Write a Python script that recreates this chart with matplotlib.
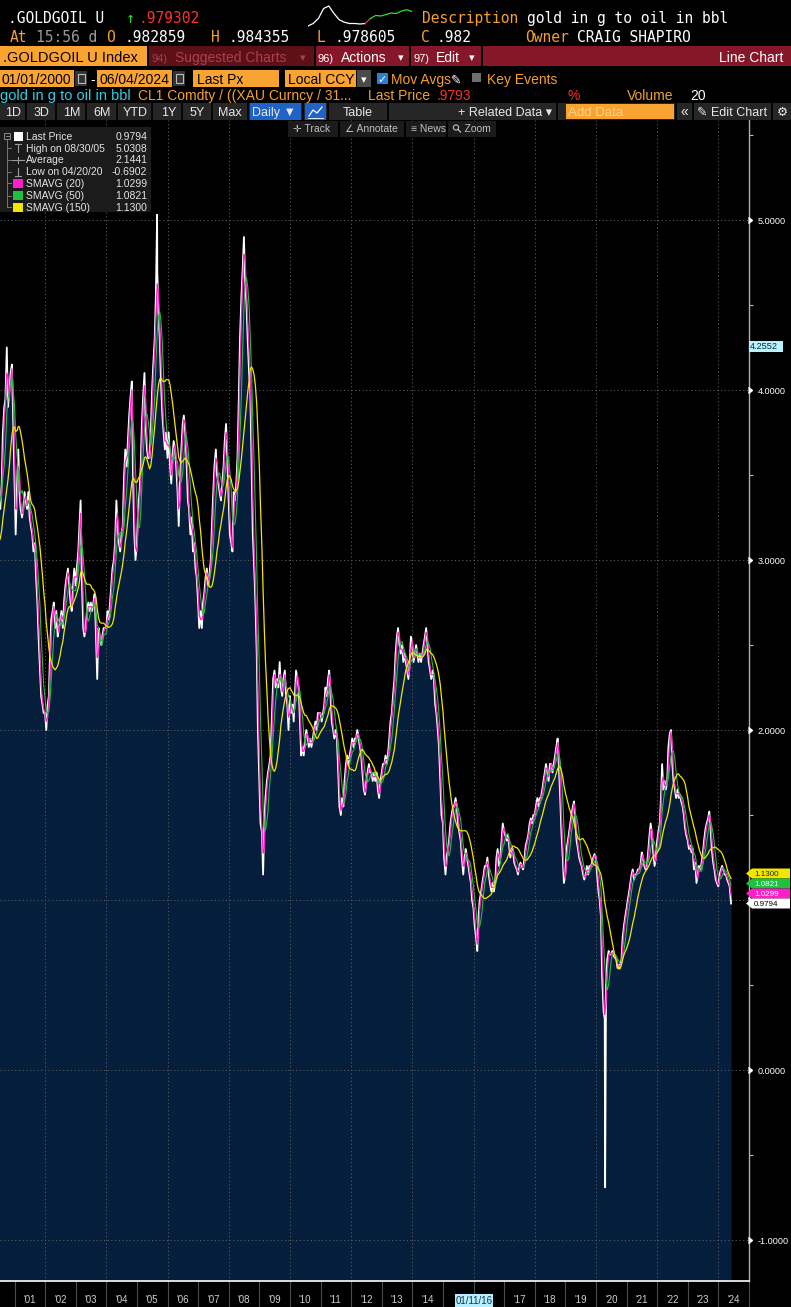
import numpy as np
import pandas as pd
import matplotlib
matplotlib.use("Agg")
import matplotlib.pyplot as plt
import matplotlib.dates as mdates
import matplotlib.transforms as mtrans
from matplotlib.patches import Rectangle, Polygon, Circle

plt.rcParams['font.family'] = ['Liberation Sans', 'DejaVu Sans']

# ------------------------------------------------------------------ data
# ratio, semi-monthly (1st and 15th of each month)
r2000 = [2.75, 2.85, 3.00, 3.20, 3.35, 3.20, 2.85, 2.75, 3.00, 3.20, 3.40, 3.50,
         3.40, 3.30, 3.45, 3.75, 3.90, 3.95, 4.25, 3.90, 4.00, 4.10, 4.15, 3.85]
r2001 = [3.45, 3.15, 3.45, 3.65, 3.40, 3.30, 3.25, 3.30, 3.40, 3.35, 3.30, 3.40,
         3.25, 3.20, 3.15, 3.05, 3.10, 2.90, 2.75, 2.55, 2.35, 2.20, 2.15, 2.10]
r2002 = [2.10, 2.00, 2.15, 2.20, 2.45, 2.65, 2.70, 2.75, 2.60, 2.70, 2.55, 2.60,
         2.65, 2.70, 2.60, 2.75, 2.85, 2.90, 2.95, 2.85, 2.75, 2.70, 2.85, 2.95]
r2003 = [2.85, 2.95, 3.05, 3.20, 3.35, 2.90, 2.60, 2.55, 2.60, 2.70, 2.75, 2.70,
         2.75, 2.70, 2.75, 2.80, 2.55, 2.30, 2.60, 2.55, 2.50, 2.55, 2.60, 2.60]
r2004 = [2.60, 2.70, 2.65, 2.75, 2.85, 2.95, 3.00, 3.10, 3.35, 3.20, 3.10, 3.05,
         3.15, 3.20, 3.50, 3.65, 3.55, 3.70, 3.85, 3.95, 4.05, 3.50, 3.15, 3.00]
r2005 = [3.10, 3.30, 3.40, 3.55, 3.80, 3.95, 4.10, 3.80, 3.65, 3.60, 3.60, 3.75,
         4.00, 4.15, 4.30, 4.55, 4.70, 4.45, 4.30, 4.05, 3.85, 3.75, 3.65, 3.75]
r2006 = [3.60, 3.75, 3.55, 3.45, 3.60, 3.70, 3.65, 3.55, 3.40, 3.20, 3.50, 3.65,
         3.80, 3.85, 3.75, 3.60, 3.35, 3.30, 3.15, 3.25, 3.05, 3.10, 2.95, 2.90]
r2007 = [2.75, 2.60, 2.70, 2.60, 2.75, 2.80, 2.90, 2.95, 2.85, 2.90, 3.00, 3.20,
         3.40, 3.55, 3.65, 3.50, 3.45, 3.40, 3.35, 3.45, 3.55, 3.70, 3.80, 3.60]
r2008 = [3.35, 3.15, 3.10, 3.05, 3.40, 3.35, 3.45, 3.60, 3.95, 4.30, 4.55, 4.70,
         4.90, 4.65, 4.50, 4.30, 4.10, 4.00, 3.55, 3.15, 2.95, 2.75, 2.45, 2.00]
r2009 = [1.70, 1.45, 1.40, 1.15, 1.45, 1.60, 1.70, 1.75, 1.80, 1.85, 2.10, 2.30,
         2.35, 2.25, 2.30, 2.25, 2.40, 2.25, 2.20, 2.30, 2.35, 2.20, 2.15, 2.00]
r2010 = [2.20, 2.10, 2.15, 2.05, 2.20, 2.35, 2.30, 2.25, 2.05, 1.85, 1.90, 1.85,
         1.95, 2.00, 1.95, 1.90, 1.95, 1.90, 1.95, 2.00, 2.05, 2.00, 2.10, 2.10]
r2011 = [2.10, 2.05, 2.10, 2.15, 2.25, 2.20, 2.30, 2.35, 2.20, 2.05, 2.00, 1.95,
         2.00, 1.95, 1.75, 1.55, 1.50, 1.60, 1.55, 1.70, 1.80, 1.85, 1.80, 1.85]
r2012 = [1.90, 1.95, 1.90, 1.95, 1.95, 2.00, 1.95, 1.90, 1.85, 1.75, 1.65, 1.62,
         1.70, 1.75, 1.80, 1.75, 1.75, 1.70, 1.75, 1.70, 1.75, 1.65, 1.60, 1.70]
r2013 = [1.75, 1.80, 1.80, 1.85, 1.80, 1.85, 1.95, 2.05, 2.10, 2.20, 2.30, 2.45,
         2.55, 2.60, 2.50, 2.45, 2.50, 2.40, 2.45, 2.40, 2.35, 2.30, 2.40, 2.55]
r2014 = [2.50, 2.40, 2.45, 2.50, 2.45, 2.40, 2.45, 2.40, 2.45, 2.50, 2.55, 2.60,
         2.50, 2.40, 2.35, 2.30, 2.35, 2.30, 2.15, 2.10, 2.00, 1.90, 1.70, 1.50]
r2015 = [1.45, 1.25, 1.15, 1.25, 1.30, 1.35, 1.45, 1.50, 1.55, 1.55, 1.60, 1.55,
         1.45, 1.40, 1.35, 1.25, 1.15, 1.25, 1.30, 1.25, 1.20, 1.15, 1.10, 1.00]
r2016 = [0.95, 0.85, 0.78, 0.70, 0.90, 1.00, 1.05, 1.10, 1.15, 1.20, 1.20, 1.25,
         1.15, 1.10, 1.05, 1.10, 1.05, 1.10, 1.25, 1.30, 1.20, 1.25, 1.35, 1.45]
r2017 = [1.40, 1.38, 1.35, 1.38, 1.32, 1.25, 1.28, 1.30, 1.22, 1.20, 1.18, 1.15,
         1.20, 1.22, 1.20, 1.18, 1.25, 1.32, 1.35, 1.38, 1.45, 1.48, 1.45, 1.50]
r2018 = [1.50, 1.55, 1.60, 1.55, 1.60, 1.60, 1.65, 1.70, 1.75, 1.80, 1.75, 1.70,
         1.80, 1.80, 1.75, 1.80, 1.85, 1.90, 1.95, 1.80, 1.60, 1.40, 1.25, 1.10]
r2019 = [1.15, 1.30, 1.35, 1.40, 1.45, 1.50, 1.55, 1.58, 1.45, 1.35, 1.30, 1.25,
         1.22, 1.20, 1.15, 1.12, 1.15, 1.20, 1.15, 1.20, 1.20, 1.22, 1.25, 1.27]
r2020 = [1.25, 1.15, 1.05, 1.00, 0.90, 0.55, 0.35, 0.30, 0.50, 0.65, 0.70, 0.68,
         0.68, 0.70, 0.67, 0.66, 0.65, 0.60, 0.62, 0.60, 0.65, 0.78, 0.85, 0.90]
r2021 = [0.95, 1.00, 1.05, 1.10, 1.15, 1.18, 1.12, 1.15, 1.15, 1.18, 1.18, 1.20,
         1.28, 1.25, 1.20, 1.18, 1.20, 1.28, 1.38, 1.45, 1.38, 1.28, 1.20, 1.25]
r2022 = [1.35, 1.40, 1.45, 1.60, 1.80, 1.65, 1.70, 1.65, 1.70, 1.90, 1.98, 2.00,
         1.80, 1.70, 1.65, 1.60, 1.65, 1.60, 1.62, 1.58, 1.55, 1.50, 1.42, 1.38]
r2023 = [1.35, 1.30, 1.32, 1.28, 1.30, 1.18, 1.22, 1.10, 1.15, 1.20, 1.18, 1.22,
         1.28, 1.35, 1.42, 1.45, 1.48, 1.52, 1.42, 1.30, 1.22, 1.18, 1.12, 1.10]
r2024 = [1.08, 1.15, 1.18, 1.20, 1.18, 1.15, 1.15, 1.12, 1.10, 1.08, 0.9794]

yearly = [r2000, r2001, r2002, r2003, r2004, r2005, r2006, r2007, r2008, r2009,
          r2010, r2011, r2012, r2013, r2014, r2015, r2016, r2017, r2018, r2019,
          r2020, r2021, r2022, r2023, r2024]
for i, yr in enumerate(yearly[:-1]):
    if len(yr) != 24:
        raise ValueError("year %d has %d values" % (2000 + i, len(yr)))
price_values = [v for yr in yearly for v in yr]
price_dates = pd.date_range("2000-01-01", "2024-06-01", freq="SMS")

# single-day extremes (legend high / low)
spike_dates = pd.to_datetime(["2005-08-30", "2020-04-20"])
spike_values = [5.0308, -0.6902]

# moving-average windows expressed in semi-monthly points (20d, 50d, 150d)
sma_names = ["SMAVG (20)", "SMAVG (50)", "SMAVG (150)"]
sma_windows = [2, 5, 14]

legend_labels = ["Last Price", "High on 08/30/05", "Average", "Low on 04/20/20",
                 "SMAVG (20)", "SMAVG (50)", "SMAVG (150)"]
legend_values = ["0.9794", "5.0308", "2.1441", "-0.6902", "1.0299", "1.0821", "1.1300"]
tag_values = [1.1300, 1.0821, 1.0299, 0.9794]

y_ticks = [-1, 0, 1, 2, 3, 4, 5]
y_tick_labels = ["-1.0000", "0.0000", "", "2.0000", "3.0000", "4.0000", "5.0000"]  # 1.0000 sits under the tags
year_ticks = list(range(2001, 2025))
year_labels = ["'%02d" % (y % 100) for y in year_ticks]
year_labels[2015 - 2001] = ""          # hidden behind the crosshair date box
year_labels[2016 - 2001] = ""
crosshair_value = 4.2552
crosshair_date = "2016-01-11"
crosshair_label = "01/11/16"

spark_vals = [0.20, 0.30, 0.50, 0.90, 1.00, 0.70, 0.45, 0.35, 0.30, 0.30, 0.28,
              0.30, 0.50, 0.62, 0.60, 0.66, 0.72, 0.70, 0.80, 0.85, 0.78]

# ------------------------------------------------------------------ figure
W, H = 791, 1307
fig = plt.figure(figsize=(W / 100, H / 100), dpi=100, facecolor="black")


def px_box(x0, y0, x1, y1):
    return [x0 / W, 1 - y1 / H, (x1 - x0) / W, (y1 - y0) / H]


NAVY = "#041e3c"
MAG = "#ff1ec8"
GRN = "#1fbf3f"
YEL = "#f2e600"

ax = fig.add_axes(px_box(0, 120, 749, 1281))
ax.set_facecolor("black")
t0 = pd.Timestamp("2001-01-01") - pd.Timedelta(days=14.5 / 30.6 * 365.25)
t1 = pd.Timestamp("2025-01-01")
ax.set_xlim(mdates.date2num(t0), mdates.date2num(t1))
ymin, ymax = (1070 - 1281) / 170, (1070 - 120) / 170
ax.set_ylim(ymin, ymax)

s = pd.Series(price_values, index=price_dates)
full = pd.concat([s, pd.Series(spike_values, index=spike_dates)]).sort_index()
xfull = mdates.date2num(full.index.to_pydatetime())
xs = mdates.date2num(s.index.to_pydatetime())

ax.fill_between(xfull, full.values, ymin, color=NAVY, lw=0, zorder=1)

grid_kw = dict(color="#5c5c5c", lw=0.7, ls=(0, (1.2, 2.6)), zorder=1.5)
for v in y_ticks:
    ax.axhline(v, **grid_kw)
for y in range(2002, 2025, 2):
    ax.axvline(mdates.date2num(pd.Timestamp("%d-01-01" % y)), **grid_kw)

ax.plot(xfull, full.values, color="white", lw=1.3, zorder=3)
for name, w, col, lw in zip(sma_names, sma_windows, [MAG, GRN, YEL], [0.9, 0.8, 0.9]):
    sma = s.rolling(w, min_periods=1).mean()
    ax.plot(xs, sma.values, color=col, lw=lw, zorder=4)

for sp in ["top", "left"]:
    ax.spines[sp].set_visible(False)
ax.spines["right"].set_color("#b0b0b0")
ax.spines["right"].set_linewidth(1.0)
ax.spines["bottom"].set_color("white")
ax.spines["bottom"].set_linewidth(1.2)

mid = [mdates.date2num(pd.Timestamp("%d-07-02" % y)) for y in year_ticks]
bounds = [mdates.date2num(pd.Timestamp("%d-01-01" % y)) for y in range(2001, 2026)]
ax.set_xticks(mid)
ax.set_xticklabels(year_labels)
ax.set_xticks(bounds, minor=True)
ax.tick_params(axis="x", which="major", length=0, pad=10, labelsize=7, labelcolor="#d0d0d0")
ax.tick_params(axis="x", which="minor", length=19, width=0.8, color="#4d4d4d", direction="out")

ax.yaxis.tick_right()
ax.set_yticks(y_ticks)
ax.set_yticklabels(y_tick_labels)
ax.set_yticks(np.arange(-0.5, 5.6, 1.0), minor=True)
ax.tick_params(axis="y", which="major", length=0, pad=6, labelsize=6.6, labelcolor="white")
ax.tick_params(axis="y", which="minor", length=3, width=0.8, color="#bbbbbb")
bt = mtrans.blended_transform_factory(ax.transAxes, ax.transData)
ax.plot(np.ones(len(y_ticks)) * 1.004, y_ticks, ls="none", marker=5, ms=4, color="white",
        transform=bt, clip_on=False, zorder=7)

# ------------------------------------------------------------------ overlay
ov = fig.add_axes([0, 0, 1, 1], zorder=10)
ov.set_xlim(0, W)
ov.set_ylim(H, 0)
ov.axis("off")
ov.patch.set_visible(False)

ORANGE_TXT = "#f5a02a"
ORANGE_BOX = "#f9a431"
MONO = "DejaVu Sans Mono"
SANS = ["Liberation Sans", "DejaVu Sans"]


def t(x, y, txt, c="white", size=10, fam=None, ha="left", va="baseline", **kw):
    ov.text(x, y, txt, color=c, fontsize=size, family=fam or SANS, ha=ha, va=va, **kw)


def box(x0, y0, x1, y1, c, **kw):
    ov.add_patch(Rectangle((x0, y0), x1 - x0, y1 - y0, facecolor=c, edgecolor="none", **kw))


# row 1
t(8, 23, ".GOLDGOIL U", "white", 10.5, MONO)
t(126, 23, "\u2191", "#35d935", 11, MONO)
t(139, 23, ".979302", "#ff3030", 10.5, MONO)
t(422, 23, "Description", ORANGE_TXT, 10.5, MONO)
t(527, 23, "gold in g to oil in bbl", "white", 10.5, MONO)
spk = fig.add_axes(px_box(308, 5, 412, 27))
spk.axis("off")
n = len(spark_vals)
spk.plot(range(0, 12), spark_vals[0:12], color="white", lw=0.9)
spk.plot(range(11, 13), spark_vals[11:13], color="#ff3030", lw=0.9)
spk.plot(range(12, n), spark_vals[12:], color="#2ee02e", lw=0.9)
spk.set_xlim(0, n - 1)

# row 2
t(10, 42, "At", ORANGE_TXT, 10.5, MONO)
t(36, 42, "15:56 d", "#9a9a9a", 10.5, MONO)
t(106, 42, "O", ORANGE_TXT, 10.5, MONO)
t(124, 42, ".982859", "white", 10.5, MONO)
t(211, 42, "H", ORANGE_TXT, 10.5, MONO)
t(229, 42, ".984355", "white", 10.5, MONO)
t(316, 42, "L", ORANGE_TXT, 10.5, MONO)
t(334, 42, ".978605", "white", 10.5, MONO)
t(421, 42, "C", ORANGE_TXT, 10.5, MONO)
t(437, 42, ".982", "white", 10.5, MONO)
t(525, 42, "Owner", ORANGE_TXT, 10.5, MONO)
t(577, 42, "CRAIG SHAPIRO", "white", 10.5, MONO)

# row 3 (red bar)
box(0, 46, 147, 66, ORANGE_BOX)
t(3, 62, ".GOLDGOIL U Index", "black", 10.5)
box(149, 46, 314, 66, "#5e1019")
t(152, 62, "94)", "#a8404e", 8)
t(175, 62, "Suggested Charts", "#a8404e", 10)
t(303, 61, "\u25be", "#a8404e", 8, ha="center")
box(316, 46, 409, 66, "#86172a")
t(318, 62, "96)", "white", 8)
t(341, 62, "Actions", "white", 10)
t(401, 61, "\u25be", "white", 8, ha="center")
box(411, 46, 481, 66, "#86172a")
t(413, 62, "97)", "white", 8)
t(436, 62, "Edit", "white", 10)
t(472, 61, "\u25be", "white", 8, ha="center")
box(483, 46, 791, 66, "#86172a")
t(783, 62, "Line Chart", "white", 10, ha="right")

# row 4
box(0, 70, 74, 87, ORANGE_BOX)
t(1, 84, "01/01/2000", "black", 10)
box(75, 71, 87, 86, "#333333")
ov.add_patch(Rectangle((77.5, 74), 7, 9, facecolor="none", edgecolor="#bbbbbb", lw=0.8))
t(90, 84, "-", "white", 10)
box(97, 70, 172, 87, ORANGE_BOX)
t(99, 84, "06/04/2024", "black", 10)
box(173, 71, 185, 86, "#333333")
ov.add_patch(Rectangle((175.5, 74), 7, 9, facecolor="none", edgecolor="#bbbbbb", lw=0.8))
box(193, 70, 279, 87, ORANGE_BOX)
t(197, 84, "Last Px", "black", 10)
box(285, 70, 356, 87, ORANGE_BOX)
t(288, 84, "Local CCY", "black", 10)
box(357, 70, 371, 87, "#4a4a4a")
t(364, 83, "\u25be", "white", 8, ha="center")
box(377, 73, 388, 84, "#2d7fd6")
t(382.5, 83, "\u2713", "white", 8, fam="DejaVu Sans", ha="center")
t(391, 84, "Mov Avgs", ORANGE_TXT, 10)
t(456, 84, "\u270e", "white", 9, fam="DejaVu Sans", ha="center")
box(472, 73, 481, 82, "#6e6e6e")
t(487, 84, "Key Events", ORANGE_TXT, 10)

# row 5
t(0, 100, "gold in g to oil in bbl", "#35cde3", 10.5)
t(138, 100, "CL1 Comdty / ((XAU Curncy / 31...", ORANGE_TXT, 10)
t(368, 100, "Last Price", ORANGE_TXT, 10)
t(437, 100, ".9793", "#ff3030", 10)
t(567, 100, "%", "#ff3030", 10)
t(627, 100, "Volume", ORANGE_TXT, 10)
t(690, 100, "20", "white", 10)

# row 6 (buttons)
box(0, 103, 791, 120, "#262626")
box(250, 103, 301, 120, "#1f63c6")
box(305, 103, 326, 120, "#1f63c6")
box(566, 104, 674, 119, ORANGE_BOX)
for xsep in [26, 56, 86, 117, 152, 182, 212, 248, 303, 328, 388, 557, 676, 693, 772]:
    ov.plot([xsep, xsep], [103, 120], color="black", lw=1.2)
for xc, lab in [(13, "1D"), (42, "3D"), (72, "1M"), (102, "6M"), (135, "YTD"), (169, "1Y"),
                (197, "5Y"), (230, "Max"), (274, "Daily \u25bc"), (358, "Table")]:
    t(xc, 116, lab, "#e8e8e8", 9, ha="center")
ov.plot([309, 313, 317, 322], [116, 110, 113, 107], color="white", lw=0.9)
ov.plot([308, 323], [117.5, 117.5], color="white", lw=0.6)
t(458, 116, "+ Related Data \u25be", "#e8e8e8", 9)
t(568, 116, "Add Data", "#ffd08a", 9.5)
t(684, 116, "\u00ab", "#e8e8e8", 10, ha="center")
t(697, 116, "\u270e Edit Chart", "#e8e8e8", 9)
t(782, 116, "\u2699", "#e8e8e8", 9, fam="DejaVu Sans", ha="center")

# row 7 (chart toolbar)
for x0, x1, lab in [(288, 338, "\u271b Track"), (340, 404, "\u2220 Annotate"),
                    (406, 446, "\u2261 News"), (448, 496, "    Zoom")]:
    box(x0, 121, x1, 137, "#1b1b1b")
    t(x0 + 5, 132, lab, "#c0c0c0", 7.5)
# magnifier icon for Zoom
ov.add_patch(Circle((456, 127.5), 2.6, facecolor="none", edgecolor="#c0c0c0", lw=0.8))
ov.plot([458, 460.5], [129.5, 132], color="#c0c0c0", lw=0.9)

# legend
box(0, 127, 151, 212, "#1b1b1b")
rows_y = [136.7, 148.3, 160.0, 171.7, 183.3, 195.7, 207.3]
ov.add_patch(Rectangle((4, 133), 6, 6, facecolor="none", edgecolor="#888888", lw=0.7))
ov.plot([5.5, 8.5], [136, 136], color="#888888", lw=0.7)
ov.plot([7, 7], [140, rows_y[-1]], color="#777777", lw=0.7)
for yy in rows_y[1:]:
    ov.plot([7, 11], [yy, yy], color="#777777", lw=0.7)
box(14, rows_y[0] - 4.5, 23, rows_y[0] + 4.5, "white")
g = "#9a9a9a"
ov.plot([15, 21], [rows_y[1] - 4, rows_y[1] - 4], color=g, lw=0.8)
ov.plot([18, 18], [rows_y[1] - 4, rows_y[1] + 4], color=g, lw=0.8)
ov.plot([12, 24], [rows_y[2], rows_y[2]], color=g, lw=0.8)
ov.plot([18, 18], [rows_y[2] - 3, rows_y[2] + 3], color=g, lw=0.8)
ov.plot([18, 18], [rows_y[3] - 4, rows_y[3] + 4], color=g, lw=0.8)
ov.plot([15, 21], [rows_y[3] + 4, rows_y[3] + 4], color=g, lw=0.8)
for yy, col in zip(rows_y[4:], [MAG, GRN, YEL]):
    box(13, yy - 4.5, 23, yy + 4.5, col)
for yy, lab, val in zip(rows_y, legend_labels, legend_values):
    t(26, yy + 3.3, lab, "#e4e4e4", 7.5)
    t(147, yy + 3.3, val, "#e4e4e4", 7.5, ha="right")


def ypix(v):
    return H - ax.transData.transform((ax.get_xlim()[0], v))[1]


def xpix(d):
    return ax.transData.transform((mdates.date2num(pd.Timestamp(d)), 0))[0]


# value tags on the right axis (stacked upward so they do not collide)
tag_y = [ypix(v) for v in tag_values]
for i in range(len(tag_y) - 2, -1, -1):
    tag_y[i] = min(tag_y[i], tag_y[i + 1] - 10)
for v, y, fc, tc in zip(tag_values, tag_y, [YEL, GRN, MAG, "white"],
                        ["#222222", "white", "white", "black"]):
    ov.add_patch(Polygon([(746, y), (752, y - 5), (790, y - 5), (790, y + 5), (752, y + 5)],
                         closed=True, facecolor=fc, edgecolor="none"))
    t(754, y + 2.8, "%.4f" % v, tc, 5.8)

# crosshair labels
yc = ypix(crosshair_value)
box(749, yc - 5.5, 783, yc + 5.5, "#b8f2ff")
t(750, yc, "%.4f" % crosshair_value, "#0e2a3a", 6.6, va="center")
xc = xpix(crosshair_date)
box(xc - 19, 1294, xc + 19, 1307, "#b4f0ff")
t(xc, 1304, crosshair_label, "#16324a", 7, ha="center")

fig.savefig("out.png", dpi=100, facecolor="black")
